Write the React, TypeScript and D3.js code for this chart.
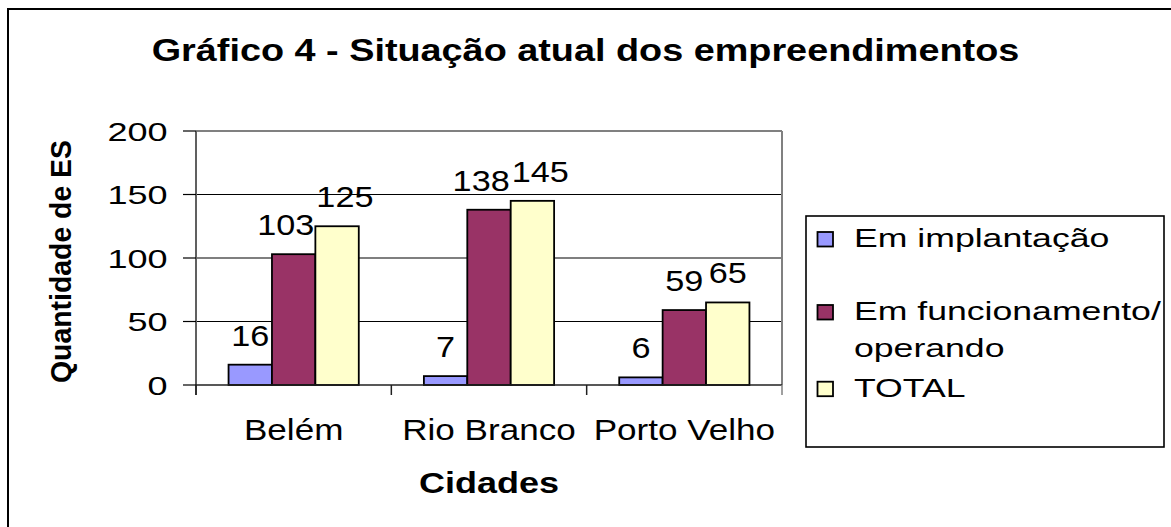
import React from "react";
import * as d3 from "d3";

const categories = ["Belém", "Rio Branco", "Porto Velho"];
const seriesNames = ["Em implantação", "Em funcionamento/\noperando", "TOTAL"];
const emImplantacao = [16, 7, 6];
const emFuncionamento = [103, 138, 59];
const total = [125, 145, 65];
const yTicks = [0, 50, 100, 150, 200];
const colors = ["#9999FF", "#993366", "#FFFFCC"];

const FONT = "'Liberation Sans', Arial, Helvetica, sans-serif";

function SText(props: {
  x: number; y: number; sx?: number; anchor?: string; size: number; bold?: boolean; children: React.ReactNode;
}) {
  const { x, y, sx = 1, anchor = "start", size, bold, children } = props;
  return (
    <text
      transform={`translate(${x},${y}) scale(${sx},1)`}
      textAnchor={anchor as any}
      fontSize={size}
      fontWeight={bold ? "bold" : "normal"}
      fontFamily={FONT}
      fill="#000"
    >
      {children}
    </text>
  );
}

export default function App() {
  const W = 1171, H = 527;
  const plot = { left: 196, right: 782, top: 131, bottom: 385 };
  const series = [emImplantacao, emFuncionamento, total];

  const x0 = d3.scaleBand<string>().domain(categories).range([plot.left, plot.right])
    .paddingInner(1 / 3).paddingOuter(1 / 6);
  const x1 = d3.scaleBand<number>().domain([0, 1, 2]).range([0, x0.bandwidth()]).padding(0);
  const y = d3.scaleLinear().domain([0, 200]).range([plot.bottom, plot.top]);
  const step = x0.step();
  const boundaries = d3.range(categories.length + 1).map((i) => plot.left + i * step);

  // data labels with simple collision nudging (like the spreadsheet does)
  const LBL_SIZE = 29, LBL_SX = 1.18;
  const labelW = (v: number) => String(v).length * 0.556 * LBL_SIZE * LBL_SX;
  const labels: { key: string; x: number; y: number; text: string }[] = [];
  categories.forEach((c, ci) => {
    const row = series.map((s, si) => ({
      key: c + si,
      x: (x0(c) as number) + (x1(si) as number) + x1.bandwidth() / 2,
      y: y(s[ci]) - 19,
      text: String(s[ci]),
      w: labelW(s[ci]),
    }));
    for (let i = 0; i < row.length - 1; i++) {
      const a = row[i], b = row[i + 1];
      const overlap = (a.x + a.w / 2) - (b.x - b.w / 2) + 2;
      if (overlap > 0 && Math.abs(a.y - b.y) < 30) {
        a.x -= overlap / 2;
        b.x += overlap / 2;
      }
    }
    row.forEach((r) => labels.push(r));
  });

  const legendRows = [
    { base: 247, lines: ["Em implantação"] },
    { base: 320, lines: ["Em funcionamento/", "operando"] },
    { base: 396.7, lines: ["TOTAL"] },
  ];

  return (
    <svg width={W} height={H} style={{ position: "absolute", left: 0, top: 0, background: "#fff" }}>
      <rect x={0} y={0} width={W} height={H} fill="#fff" />
      {/* outer chart border */}
      <rect x={8} y={9} width={1180} height={540} fill="none" stroke="#000" strokeWidth={2} />

      {/* title */}
      <SText x={585.5} y={61} sx={1.22} anchor="middle" size={31} bold>
        Gráfico 4 - Situação atual dos empreendimentos
      </SText>

      {/* gridlines */}
      {yTicks.filter((t) => t > 0 && t < 200).map((t) => (
        <line key={t} x1={plot.left} x2={plot.right} y1={y(t)} y2={y(t)} stroke="#000" strokeWidth={1.2} />
      ))}
      {/* plot border: top and right gray */}
      <line x1={plot.left} x2={plot.right} y1={plot.top} y2={plot.top} stroke="#808080" strokeWidth={2} />
      <line x1={plot.right} x2={plot.right} y1={plot.top} y2={plot.bottom} stroke="#808080" strokeWidth={2} />

      {/* bars */}
      {categories.map((c, ci) => (
        <g key={c}>
          {series.map((s, si) => (
            <rect
              key={si}
              x={(x0(c) as number) + (x1(si) as number)}
              y={y(s[ci])}
              width={x1.bandwidth()}
              height={y(0) - y(s[ci])}
              fill={colors[si]}
              stroke="#000"
              strokeWidth={1.8}
            />
          ))}
        </g>
      ))}

      {/* data labels */}
      {labels.map((l) => (
        <SText key={l.key} x={l.x} y={l.y} sx={LBL_SX} anchor="middle" size={LBL_SIZE}>
          {l.text}
        </SText>
      ))}

      {/* y axis */}
      <line x1={plot.left} x2={plot.left} y1={plot.top} y2={plot.bottom + 10} stroke="#606060" strokeWidth={2} />
      {yTicks.map((t) => (
        <g key={t}>
          <line x1={183} x2={plot.left} y1={y(t)} y2={y(t)} stroke="#000" strokeWidth={1.2} />
          <SText x={167.5} y={y(t) + 9.5} sx={1.36} anchor="end" size={26.5}>
            {String(t)}
          </SText>
        </g>
      ))}

      {/* x axis */}
      <line x1={plot.left} x2={plot.right} y1={plot.bottom} y2={plot.bottom} stroke="#202020" strokeWidth={1.5} />
      {boundaries.map((bx, i) => (
        <line key={i} x1={bx} x2={bx} y1={plot.bottom} y2={plot.bottom + 10} stroke={i === boundaries.length - 1 ? "#808080" : "#202020"} strokeWidth={1.5} />
      ))}
      {categories.map((c) => (
        <SText key={c} x={(x0(c) as number) + x0.bandwidth() / 2} y={440} sx={1.21} anchor="middle" size={29}>
          {c}
        </SText>
      ))}

      {/* axis titles */}
      <SText x={489} y={492.7} sx={1.2} anchor="middle" size={30} bold>
        Cidades
      </SText>
      <text
        transform="translate(71,261.5) rotate(-90)"
        textAnchor="middle"
        fontSize={29}
        fontWeight="bold"
        fontFamily={FONT}
        textLength={243}
        lengthAdjust="spacingAndGlyphs"
      >
        Quantidade de ES
      </text>

      {/* legend */}
      <rect x={806} y={216} width={358} height={231} fill="#fff" stroke="#000" strokeWidth={1.6} />
      {legendRows.map((r, i) => (
        <g key={i}>
          <rect x={817.5} y={r.base - 15} width={15.5} height={14.5} fill={colors[i]} stroke="#000" strokeWidth={1.8} />
          {r.lines.map((ln, li) => (
            <SText key={li} x={854} y={r.base + li * 37} sx={1.37} size={26}>
              {ln}
            </SText>
          ))}
        </g>
      ))}
      <desc>{seriesNames.join(", ")}</desc>
    </svg>
  );
}
